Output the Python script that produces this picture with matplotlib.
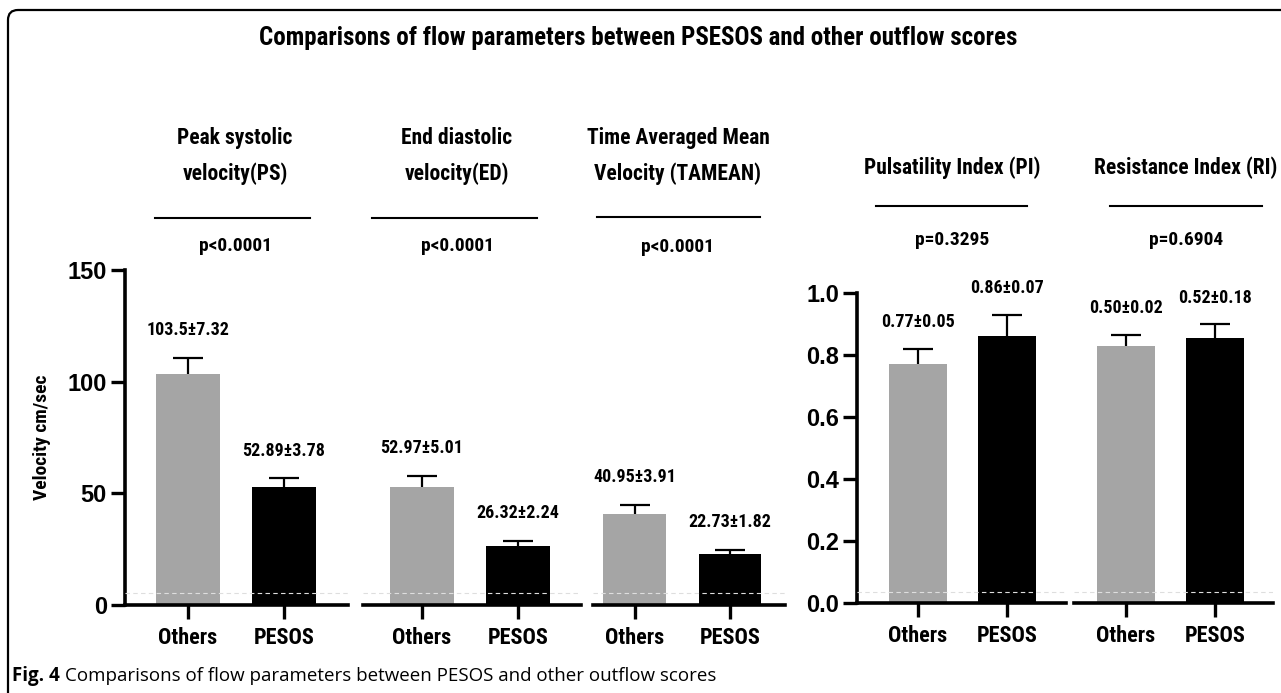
import matplotlib
matplotlib.use("Agg")
import matplotlib.pyplot as plt
from matplotlib import font_manager as fm
from matplotlib.lines import Line2D
from matplotlib.patches import FancyBboxPatch
from matplotlib.transforms import IdentityTransform

# ---- data ----
groups = ["Others", "PESOS"]
panel_titles = ["Peak systolic\nvelocity(PS)", "End diastolic\nvelocity(ED)",
                "Time Averaged Mean\nVelocity (TAMEAN)",
                "Pulsatility Index (PI)", "Resistance Index (RI)"]
p_values = ["p<0.0001", "p<0.0001", "p<0.0001", "p=0.3295", "p=0.6904"]

ps_mean = [103.5, 52.89]
ps_err = [7.32, 3.78]
ed_mean = [52.97, 26.32]
ed_err = [5.01, 2.24]
tam_mean = [40.95, 22.73]
tam_err = [3.91, 1.82]
pi_mean = [0.77, 0.86]
pi_err = [0.05, 0.07]
ri_mean = [0.83, 0.855]     # bar heights as drawn
ri_err = [0.035, 0.045]

ps_labels = ["103.5\u00b17.32", "52.89\u00b13.78"]
ed_labels = ["52.97\u00b15.01", "26.32\u00b12.24"]
tam_labels = ["40.95\u00b13.91", "22.73\u00b11.82"]
pi_labels = ["0.77\u00b10.05", "0.86\u00b10.07"]
ri_labels = ["0.50\u00b10.02", "0.52\u00b10.18"]

bar_colors = ["#a5a5a5", "#000000"]

# ---- fonts ----
names = {f.name for f in fm.fontManager.ttflist}
narrow = dict(family="DejaVu Sans", stretch="condensed")
for cand in ["Roboto Condensed", "Liberation Sans Narrow", "Open Sans Condensed"]:
    if cand in names:
        narrow = dict(family=cand)
        break
arial = "Liberation Sans" if "Liberation Sans" in names else "DejaVu Sans"

W, H = 1281, 693
fig = plt.figure(figsize=(W / 100, H / 100), dpi=100)


def px_axes(x0, x1, y0, y1):
    # pixel box -> figure fraction
    return fig.add_axes([x0 / W, 1 - y1 / H, (x1 - x0) / W, (y1 - y0) / H])


def style_yticks(ax):
    for t in ax.get_yticklabels():
        t.set_fontsize(17)
        t.set_fontweight("bold")
        t.set_family(arial)


def draw_group(ax, means, errs, labels, xlim, ylim, off, first, yticks=None):
    x = list(range(len(means)))
    ax.bar(x, means, width=0.66, color=bar_colors, zorder=2)
    eb = ax.errorbar(x, means, yerr=[[0] * len(errs), errs], fmt="none",
                     ecolor="black", elinewidth=1.6, capsize=11, capthick=1.6, zorder=3)
    # keep only the upper caps
    for cap in eb[1]:
        if list(cap.get_ydata()) == list(means):
            cap.set_visible(False)
    for xi, m, e, lab in zip(x, means, errs, labels):
        ax.annotate(lab, (xi, m + e), xytext=(0, off), textcoords="offset points",
                    ha="center", va="center", fontsize=13, fontweight="bold",
                    **narrow)
    ax.set_xlim(*xlim)
    ax.set_ylim(*ylim)
    ax.set_xticks(x)
    ax.set_xticklabels(groups, fontsize=16, fontweight="bold", **narrow)
    ax.tick_params(axis="x", length=10, width=2.4, pad=6)
    for s in ["top", "right"]:
        ax.spines[s].set_visible(False)
    ax.spines["bottom"].set_linewidth(2.6)
    ax.spines["left"].set_linewidth(2.6)
    # faint scan artefact line near the base
    ax.axhline(ylim[1] * 0.036, color="#dedede", lw=0.8, ls=(0, (4, 3)), zorder=4)
    if first:
        ax.set_yticks(yticks)
        ax.tick_params(axis="y", length=10, width=2.4, pad=3)
        style_yticks(ax)
    else:
        ax.spines["left"].set_visible(False)
        ax.set_yticks([])
    ax.patch.set_alpha(0)


# left panel: velocities
ax1 = px_axes(125, 348, 270, 605)
draw_group(ax1, ps_mean, ps_err, ps_labels, (-0.656, 1.667), (0, 150), 20, True, [0, 50, 100, 150])
ax1.set_ylabel("Velocity cm/sec", fontsize=14, fontweight="bold", labelpad=12, **narrow)
ax2 = px_axes(363, 581, 270, 605)
draw_group(ax2, ed_mean, ed_err, ed_labels, (-0.615, 1.656), (0, 150), 20, False)
ax3 = px_axes(593, 785, 270, 605)
draw_group(ax3, tam_mean, tam_err, tam_labels, (-0.44, 1.58), (0, 150), 20, False)

# right panel: indices
ax4 = px_axes(857, 1066, 293, 603)
draw_group(ax4, pi_mean, pi_err, pi_labels, (-0.685, 1.663), (0, 1.0), 19, True,
           [0.0, 0.2, 0.4, 0.6, 0.8, 1.0])
ax4.set_yticklabels(["0.0", "0.2", "0.4", "0.6", "0.8", "1.0"])
style_yticks(ax4)
ax5 = px_axes(1074, 1273, 293, 603)
draw_group(ax5, ri_mean, ri_err, ri_labels, (-0.584, 1.652), (0, 1.0), 19, False)

# panel headers, separator lines and p values
title_x = [235, 457, 678, 952, 1186]
title_y = [156, 156, 156, 168, 168]
line_y = [218, 218, 217, 206, 206]
line_x = [(155, 310), (372, 537), (597, 760), (876, 1027), (1110, 1262)]
p_y = [246, 246, 247, 240, 240]
for t, tx, ty, ly, (lx0, lx1), pv, py in zip(panel_titles, title_x, title_y, line_y,
                                              line_x, p_values, p_y):
    fig.text(tx / W, 1 - ty / H, t, ha="center", va="center", fontsize=15.5,
             fontweight="bold", linespacing=1.75, **narrow)
    fig.add_artist(Line2D([lx0 / W, lx1 / W], [1 - ly / H, 1 - ly / H],
                          color="black", lw=1.5))
    fig.text(tx / W, 1 - py / H, pv, ha="center", va="center", fontsize=14,
             fontweight="bold", **narrow)

fig.text(638 / W, 1 - 38 / H,
         "Comparisons of flow parameters between PSESOS and other outflow scores",
         ha="center", va="center", fontsize=18, fontweight="bold", **narrow)

# caption
renderer = fig.canvas.get_renderer()
cap_font = "Open Sans" if "Open Sans" in names else "Noto Sans"
c1 = fig.text(12 / W, 1 - 676 / H, "Fig. 4", ha="left", va="center", fontsize=13.5,
              fontweight="bold", family=cap_font)
bb = c1.get_window_extent(renderer)
fig.text((bb.x1 + 5) / W, 1 - 676 / H,
         "Comparisons of flow parameters between PESOS and other outflow scores",
         ha="left", va="center", fontsize=13.5, family=cap_font)

# rounded page frame (open at right/bottom)
fig.add_artist(FancyBboxPatch((8, -40), 1400, H - 10 + 40,
                              boxstyle="round,pad=0,rounding_size=10",
                              transform=IdentityTransform(), fill=False,
                              lw=1.6, ec="black"))

fig.savefig("out.png", dpi=100)
